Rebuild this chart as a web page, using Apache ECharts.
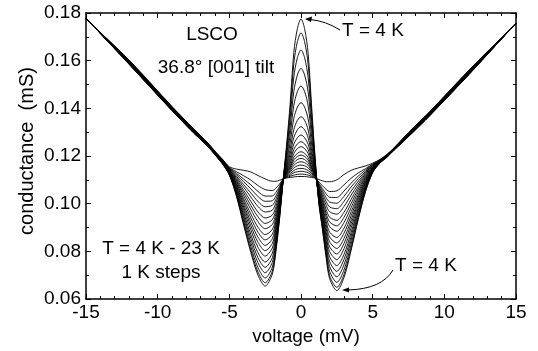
<!DOCTYPE html>
<html>
<head>
<meta charset="utf-8">
<script src="https://cdn.jsdelivr.net/npm/echarts@6/dist/echarts.min.js"></script>
<style>
  html, body { margin: 0; padding: 0; background: #fff; }
  #chart { width: 538px; height: 351px; }
</style>
</head>
<body>
<div id="chart"></div>
<script>
// voltage grid (mV), shared by every curve
const voltage = [-15, -12, -9, -7.5, -6.5, -6, -5.5, -5, -4.5, -4, -3.5, -3, -2.5, -2, -1.75, -1.5, -1.25,
  -1, -0.75, -0.5, -0.25, 0, 0.25, 0.5, 0.75, 1,
  1.25, 1.5, 1.75, 2, 2.5, 3, 3.5, 4, 4.5, 5, 5.5, 6, 6.5, 7.5, 9, 12, 15];

const temps = [4, 5, 6, 7, 8, 9, 10, 11, 12, 13, 14, 15, 16, 17, 18, 19, 20, 21, 22, 23];

// conductance (mS), one row per temperature
const conductance = [
  [.1778, .1585, .1390, .1297, .1240, .1205, .1168, .1120, .1030, .0910, .0795, .0700, .0654, .0705, .0800, .0935, .1095,
   .1250, .1425, .1635, .1735, .1775, .1735, .1630, .1400, .1180,
   .1000, .0890, .0775, .0685, .0635, .0690, .0805, .0935, .1050, .1130, .1170, .1195, .1225, .1281, .1370, .1560, .1758],
  [.1778, .1586, .1391, .1298, .1240, .1205, .1169, .1121, .1034, .0917, .0805, .0713, .0668, .0717, .0809, .0940, .1095,
   .1237, .1397, .1589, .1680, .1717, .1680, .1584, .1375, .1173,
   .1003, .0896, .0785, .0697, .0649, .0703, .0815, .0942, .1053, .1131, .1170, .1195, .1225, .1282, .1371, .1561, .1758],
  [.1778, .1586, .1391, .1298, .1241, .1206, .1170, .1123, .1039, .0927, .0820, .0731, .0688, .0734, .0822, .0947, .1096,
   .1222, .1363, .1532, .1613, .1645, .1613, .1528, .1343, .1165,
   .1008, .0906, .0799, .0716, .0670, .0722, .0830, .0951, .1058, .1133, .1171, .1196, .1226, .1282, .1371, .1561, .1758],
  [.1778, .1587, .1392, .1299, .1242, .1207, .1171, .1124, .1044, .0939, .0837, .0752, .0710, .0754, .0837, .0955, .1096,
   .1205, .1326, .1471, .1540, .1568, .1540, .1468, .1309, .1157,
   .1013, .0916, .0815, .0736, .0693, .0744, .0847, .0962, .1064, .1135, .1172, .1197, .1226, .1283, .1372, .1562, .1758],
  [.1778, .1588, .1393, .1300, .1243, .1208, .1172, .1126, .1050, .0950, .0854, .0773, .0733, .0773, .0852, .0964, .1096,
   .1189, .1291, .1413, .1471, .1494, .1471, .1410, .1277, .1149,
   .1018, .0926, .0831, .0756, .0716, .0766, .0864, .0973, .1069, .1137, .1173, .1197, .1227, .1284, .1373, .1563, .1757],
  [.1777, .1589, .1394, .1301, .1243, .1208, .1173, .1128, .1056, .0962, .0871, .0794, .0755, .0793, .0866, .0972, .1097,
   .1174, .1258, .1358, .1405, .1424, .1405, .1355, .1246, .1141,
   .1023, .0936, .0846, .0777, .0740, .0787, .0880, .0983, .1074, .1139, .1173, .1198, .1227, .1285, .1374, .1564, .1757],
  [.1777, .1590, .1395, .1302, .1244, .1209, .1174, .1130, .1062, .0974, .0890, .0817, .0780, .0814, .0882, .0981, .1097,
   .1162, .1230, .1311, .1350, .1365, .1350, .1309, .1220, .1135,
   .1028, .0948, .0864, .0799, .0765, .0811, .0899, .0995, .1080, .1141, .1174, .1198, .1228, .1286, .1375, .1565, .1757],
  [.1777, .1591, .1396, .1303, .1245, .1210, .1175, .1132, .1068, .0986, .0907, .0838, .0803, .0833, .0897, .0989, .1098,
   .1153, .1210, .1278, .1310, .1323, .1310, .1276, .1202, .1130,
   .1033, .0958, .0880, .0819, .0789, .0833, .0916, .1006, .1086, .1143, .1175, .1199, .1228, .1287, .1376, .1566, .1757],
  [.1777, .1592, .1397, .1304, .1246, .1211, .1176, .1133, .1074, .0997, .0923, .0859, .0825, .0853, .0912, .0997, .1098,
   .1145, .1193, .1250, .1277, .1288, .1277, .1249, .1186, .1126,
   .1038, .0968, .0896, .0840, .0812, .0854, .0932, .1017, .1091, .1145, .1176, .1200, .1229, .1288, .1377, .1567, .1757],
  [.1777, .1593, .1398, .1305, .1246, .1211, .1177, .1135, .1080, .1009, .0940, .0880, .0848, .0872, .0926, .1005, .1098,
   .1139, .1180, .1228, .1251, .1260, .1251, .1227, .1174, .1123,
   .1043, .0979, .0911, .0860, .0835, .0876, .0949, .1028, .1096, .1147, .1176, .1200, .1229, .1289, .1378, .1568, .1757],
  [.1777, .1594, .1399, .1306, .1247, .1212, .1178, .1137, .1085, .1020, .0957, .0901, .0870, .0892, .0941, .1013, .1099,
   .1135, .1169, .1211, .1231, .1239, .1231, .1210, .1165, .1121,
   .1049, .0989, .0927, .0880, .0858, .0897, .0966, .1038, .1102, .1149, .1177, .1201, .1230, .1290, .1379, .1569, .1757],
  [.1776, .1595, .1400, .1307, .1248, .1213, .1179, .1139, .1092, .1033, .0976, .0924, .0895, .0913, .0957, .1022, .1099,
   .1130, .1159, .1195, .1211, .1218, .1211, .1194, .1155, .1118,
   .1054, .1000, .0945, .0903, .0884, .0921, .0984, .1050, .1108, .1151, .1178, .1201, .1230, .1291, .1380, .1570, .1756],
  [.1776, .1595, .1400, .1307, .1249, .1214, .1180, .1141, .1097, .1045, .0993, .0945, .0917, .0933, .0972, .1030, .1100,
   .1127, .1153, .1184, .1198, .1204, .1198, .1183, .1149, .1117,
   .1059, .1011, .0960, .0923, .0907, .0943, .1001, .1061, .1113, .1153, .1179, .1202, .1231, .1291, .1380, .1570, .1756],
  [.1776, .1596, .1401, .1308, .1250, .1215, .1181, .1142, .1103, .1056, .1010, .0965, .0940, .0952, .0987, .1039, .1100,
   .1124, .1146, .1172, .1185, .1190, .1185, .1172, .1143, .1115,
   .1064, .1021, .0976, .0943, .0930, .0964, .1018, .1072, .1119, .1155, .1180, .1203, .1231, .1292, .1381, .1571, .1756],
  [.1776, .1597, .1402, .1309, .1250, .1215, .1182, .1144, .1109, .1069, .1028, .0988, .0965, .0973, .1003, .1048, .1101,
   .1121, .1139, .1161, .1172, .1176, .1172, .1161, .1137, .1114,
   .1070, .1032, .0994, .0966, .0956, .0988, .1036, .1083, .1125, .1158, .1180, .1203, .1232, .1293, .1382, .1572, .1756],
  [.1776, .1598, .1403, .1310, .1251, .1216, .1183, .1146, .1115, .1080, .1045, .1009, .0987, .0993, .1018, .1056, .1101,
   .1118, .1133, .1150, .1159, .1162, .1159, .1150, .1131, .1112,
   .1075, .1042, .1010, .0986, .0979, .1010, .1053, .1094, .1130, .1160, .1181, .1204, .1232, .1294, .1383, .1573, .1756],
  [.1776, .1599, .1404, .1311, .1252, .1217, .1184, .1148, .1121, .1092, .1062, .1030, .1010, .1012, .1032, .1064, .1101,
   .1115, .1126, .1139, .1146, .1148, .1146, .1139, .1125, .1111,
   .1080, .1053, .1025, .1007, .1002, .1031, .1070, .1105, .1135, .1162, .1182, .1205, .1233, .1295, .1384, .1574, .1756],
  [.1776, .1600, .1405, .1312, .1253, .1218, .1185, .1149, .1127, .1103, .1079, .1051, .1032, .1032, .1047, .1072, .1102,
   .1113, .1120, .1130, .1134, .1136, .1134, .1130, .1119, .1109,
   .1085, .1063, .1041, .1027, .1026, .1053, .1086, .1116, .1141, .1164, .1183, .1205, .1233, .1296, .1385, .1575, .1756],
  [.1775, .1601, .1406, .1313, .1254, .1219, .1186, .1152, .1134, .1117, .1099, .1076, .1059, .1055, .1065, .1082, .1102,
   .1110, .1115, .1120, .1123, .1124, .1123, .1120, .1114, .1108,
   .1091, .1075, .1060, .1051, .1054, .1079, .1107, .1129, .1147, .1166, .1184, .1206, .1234, .1297, .1386, .1576, .1755],
  [.1775, .1603, .1408, .1315, .1255, .1220, .1188, .1155, .1145, .1140, .1133, .1118, .1104, .1094, .1094, .1098, .1103,
   .1108, .1110, .1112, .1114, .1114, .1114, .1112, .1110, .1107,
   .1101, .1096, .1092, .1092, .1100, .1122, .1140, .1150, .1158, .1170, .1185, .1207, .1235, .1299, .1388, .1578, .1755]
];

const FONT = 'Liberation Sans, Arial, Helvetica, sans-serif';

const chart = echarts.init(document.getElementById('chart'), null, { renderer: 'canvas' });

function frameAxis(extra) {
    return Object.assign({
        axisLine: { show: true, onZero: false, lineStyle: { color: '#000', width: 1.5 } },
        axisTick: { show: true, inside: true, length: 5, lineStyle: { color: '#000', width: 1 } },
        minorTick: { show: true, length: 3, lineStyle: { color: '#000', width: 1 } },
        splitLine: { show: false },
        axisLabel: { show: false }
    }, extra);
}

const series = temps.map((t, i) => ({
    name: t + ' K',
    type: 'line',
    xAxisIndex: 0,
    yAxisIndex: 0,
    data: voltage.map((v, j) => [v, conductance[i][j]]),
    showSymbol: false,
    smooth: 0.3,
    lineStyle: { color: '#000', width: 0.9 },
    silent: true
}));

const option = {
    animation: false,
    backgroundColor: '#fff',
    grid: { left: 86, right: 22, top: 13, bottom: 52 },
    xAxis: [
        frameAxis({
            type: 'value', min: -15, max: 15, interval: 5,
            minorTick: { show: true, splitNumber: 5, length: 3, lineStyle: { color: '#000', width: 1 } },
            axisLabel: { show: true, color: '#000', fontSize: 19, fontFamily: FONT, margin: 4 },
            name: 'voltage (mV)', nameLocation: 'middle', nameGap: 21,
            nameTextStyle: { color: '#000', fontSize: 19, fontFamily: FONT, padding: [0, 0, 0, 10] }
        }),
        frameAxis({
            type: 'value', position: 'top', min: -15, max: 15, interval: 5,
            minorTick: { show: true, splitNumber: 5, length: 3, lineStyle: { color: '#000', width: 1 } }
        })
    ],
    yAxis: [
        frameAxis({
            type: 'value', min: 0.06, max: 0.18, interval: 0.02,
            minorTick: { show: true, splitNumber: 2, length: 3, lineStyle: { color: '#000', width: 1 } },
            axisLabel: { show: true, color: '#000', fontSize: 19, fontFamily: FONT, margin: 5,
                formatter: v => v.toFixed(2) }
        }),
        frameAxis({
            type: 'value', position: 'right', min: 0.06, max: 0.18, interval: 0.02,
            minorTick: { show: true, splitNumber: 2, length: 3, lineStyle: { color: '#000', width: 1 } }
        })
    ],
    graphic: [
        { type: 'text', x: 27, y: 151, rotation: Math.PI / 2,
          style: { text: 'conductance  (mS)', fill: '#000', font: '20px ' + FONT, align: 'center', verticalAlign: 'middle' } },
        { type: 'text', x: 212, y: 35,
          style: { text: 'LSCO', fill: '#000', font: '19px ' + FONT, align: 'center', verticalAlign: 'middle' } },
        { type: 'text', x: 216, y: 68,
          style: { text: '36.8\u00b0 [001] tilt', fill: '#000', font: '19px ' + FONT, align: 'center', verticalAlign: 'middle' } },
        { type: 'text', x: 373, y: 31,
          style: { text: 'T = 4 K', fill: '#000', font: '19px ' + FONT, align: 'center', verticalAlign: 'middle' } },
        { type: 'text', x: 426, y: 266,
          style: { text: 'T = 4 K', fill: '#000', font: '19px ' + FONT, align: 'center', verticalAlign: 'middle' } },
        { type: 'text', x: 161, y: 249,
          style: { text: 'T = 4 K - 23 K', fill: '#000', font: '19px ' + FONT, align: 'center', verticalAlign: 'middle' } },
        { type: 'text', x: 161, y: 273,
          style: { text: '1 K steps', fill: '#000', font: '19px ' + FONT, align: 'center', verticalAlign: 'middle' } },
        // arrows to the 4 K curve
        { type: 'bezierCurve', shape: { x1: 340, y1: 30, x2: 310, y2: 19.5, cpx1: 326, cpy1: 21 },
          style: { stroke: '#000', lineWidth: 1, fill: null } },
        { type: 'polygon', shape: { points: [[305, 19], [312, 16.5], [311, 22]] }, style: { fill: '#000' } },
        { type: 'bezierCurve', shape: { x1: 393, y1: 270, x2: 348, y2: 290, cpx1: 382, cpy1: 289 },
          style: { stroke: '#000', lineWidth: 1, fill: null } },
        { type: 'polygon', shape: { points: [[342, 290], [349, 287.5], [349, 292.5]] }, style: { fill: '#000' } }
    ],
    series: series
};

chart.setOption(option);
</script>
</body>
</html>
